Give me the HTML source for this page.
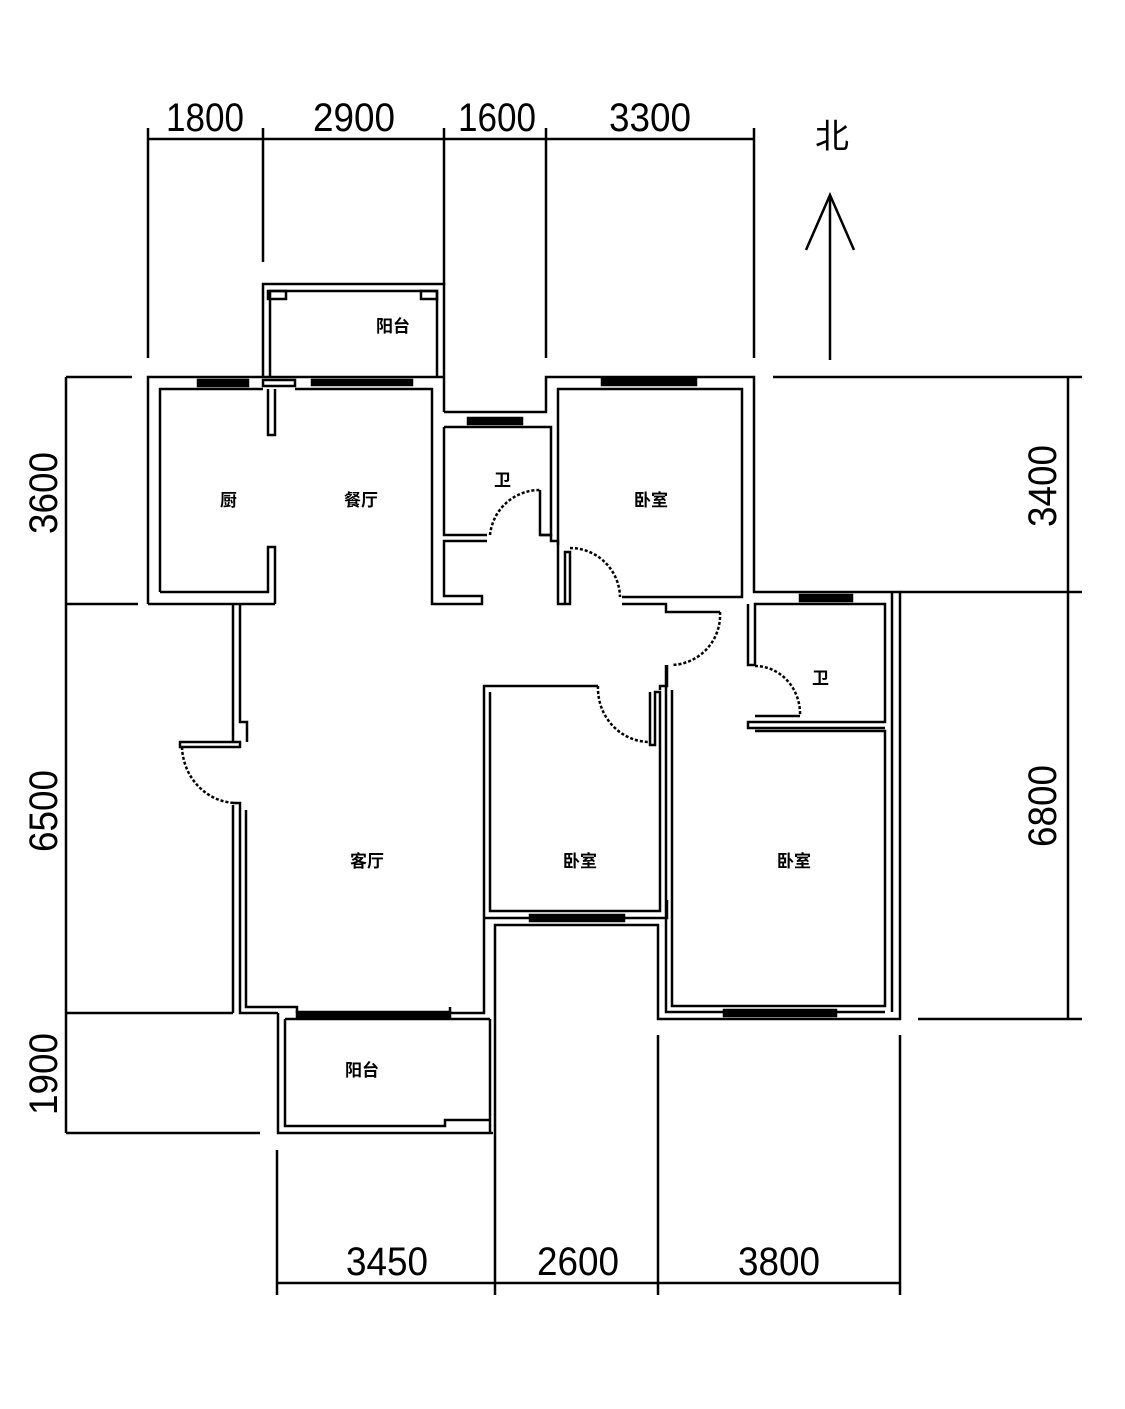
<!DOCTYPE html>
<html><head><meta charset="utf-8"><style>
html,body{margin:0;padding:0;background:#fff}
svg{display:block}
.n{font-family:"Liberation Sans Narrow","Liberation Sans",sans-serif;font-size:40px;fill:#000}
.c{font-family:"Liberation Sans","Noto Sans CJK SC",sans-serif;font-size:17px;font-weight:bold;fill:#000}
</style></head><body>
<svg width="1125" height="1409" viewBox="0 0 1125 1409" xmlns="http://www.w3.org/2000/svg">
<g fill="none" stroke="#000" stroke-width="2.5">
<!-- dimension top -->
<line x1="148" y1="139" x2="754" y2="139"/>
<line x1="148" y1="128" x2="148" y2="358"/>
<line x1="263" y1="128" x2="263" y2="262"/>
<line x1="444" y1="128" x2="444" y2="285"/>
<line x1="546" y1="128" x2="546" y2="358"/>
<line x1="754" y1="128" x2="754" y2="358"/>
<!-- north arrow -->
<line x1="830" y1="195" x2="830" y2="360"/>
<polyline points="806,250 830,195 854,250"/>
<!-- right dims -->
<line x1="1068" y1="377" x2="1068" y2="1019"/>
<line x1="773" y1="377" x2="1082" y2="377"/>
<line x1="900" y1="592" x2="1082" y2="592"/>
<line x1="918" y1="1019" x2="1082" y2="1019"/>
<!-- left dims -->
<line x1="66" y1="377" x2="66" y2="1133"/>
<line x1="66" y1="377" x2="132" y2="377"/>
<line x1="66" y1="604" x2="138" y2="604"/>
<line x1="66" y1="1013" x2="233" y2="1013"/>
<line x1="66" y1="1133" x2="260" y2="1133"/>
<!-- bottom dims -->
<line x1="277" y1="1283" x2="900" y2="1283"/>
<line x1="277" y1="1150" x2="277" y2="1295"/>
<line x1="495" y1="1133" x2="495" y2="1295"/>
<line x1="658" y1="1035" x2="658" y2="1295"/>
<line x1="900" y1="1035" x2="900" y2="1295"/>

<!-- top balcony -->
<polyline points="263,377 263,284 444,284 444,412"/>
<polyline points="270,377 270,291 437,291 437,377"/>
<rect x="268" y="291" width="18" height="8"/>
<rect x="421" y="291" width="16" height="8"/>
<!-- top-left block -->
<polyline points="148,604 148,377 444,377"/>
<polyline points="444,412 546,412 546,377 754,377 754,592 900,592 900,1019 658,1019 658,925 495,925 495,1133"/>
<polyline points="160,592 160,389 263,389"/>
<polyline points="295,389 432,389 432,604 482,604 482,596 444,596 444,541 487,541"/>
<line x1="148" y1="604" x2="275" y2="604"/>
<polyline points="160,592 268,592 268,547 275,547 275,604"/>
<polyline points="268,389 268,435 275,435 275,389"/>
<!-- bathroom 1 -->
<polyline points="444,427 444,535 487,535"/>
<polyline points="444,427 551,427 551,535 540,535"/>
<polyline points="540,490 540,535 551,535 551,541 558,541 558,604 570,604 570,552 565,552 565,604"/>
<path d="M490,535 A50,50 0 0 1 540,490" stroke-dasharray="3,2"/>
<rect x="468" y="418" width="54" height="6" fill="#000"/>
<!-- top-right bedroom -->
<polyline points="558,545 558,389 742,389 742,597 622,597"/>
<path d="M570,548 A50,50 0 0 1 620,597" stroke-dasharray="3,2"/>
<rect x="602" y="379" width="94" height="6" fill="#000"/>
<rect x="800" y="595" width="52" height="6" fill="#000"/>
<polyline points="622,604 666,604 666,612 720,612"/>
<path d="M720,612 A50,50 0 0 1 672,665" stroke-dasharray="3,2"/>
<polyline points="748,604 748,665 755,665"/>
<!-- bath 2 -->
<polyline points="755,665 755,604 885,604 885,722 755,722 748,722 748,728 885,728"/>
<line x1="755" y1="716" x2="800" y2="716"/>
<path d="M755,666 A45,48 0 0 1 800,716" stroke-dasharray="3,2"/>
<line x1="892" y1="592" x2="892" y2="1012"/>
<!-- big bedroom -->
<polyline points="666,665 666,1012 885,1012"/>
<polyline points="672,690 672,1006 885,1006 885,731 755,731"/>
<rect x="724" y="1010" width="112" height="6" fill="#000"/>
<!-- middle bedroom -->
<polyline points="598,686 484,686 484,1007"/>
<polyline points="490,692 490,911 660,911 660,692 655,692 655,745 650,745 650,692"/>
<path d="M598,686 A52,54 0 0 0 648,742" stroke-dasharray="3,2"/>
<polyline points="660,690 660,686 667,686 667,665"/>
<polyline points="484,918 667,918 667,900"/>
<rect x="530" y="915" width="94" height="6" fill="#000"/>
<!-- living left wall -->
<polyline points="233,604 233,742"/>
<polyline points="240,604 240,722 247,722 247,742"/>
<rect x="180" y="742" width="60" height="5"/>
<path d="M182,747 A55,58 0 0 0 236,803" stroke-dasharray="3,2"/>
<polyline points="233,803 240,803 240,1013 278,1013"/>
<polyline points="233,805 233,1013"/>
<polyline points="246,810 246,1007 297,1007 297,1013"/>
<polyline points="450,1007 450,1013 484,1013 484,1007"/>
<rect x="297" y="1012" width="153" height="6" fill="#000"/>
<!-- bottom balcony -->
<polyline points="278,1013 278,1133 493,1133"/>
<polyline points="285,1019 285,1126 445,1126 445,1120 490,1120"/>
<line x1="285" y1="1019" x2="490" y2="1019"/>
<line x1="490" y1="1019" x2="490" y2="1133"/>
<rect x="263" y="380" width="32" height="6" fill="none"/>
<rect x="198" y="380" width="50" height="6" fill="#000"/>
<rect x="312" y="380" width="100" height="5" fill="#000"/>
</g>
<!-- numbers -->
<g class="n">
<text x="166" y="131" textLength="78" lengthAdjust="spacingAndGlyphs">1800</text>
<text x="313" y="131" textLength="82" lengthAdjust="spacingAndGlyphs">2900</text>
<text x="458" y="131" textLength="78" lengthAdjust="spacingAndGlyphs">1600</text>
<text x="609" y="131" textLength="82" lengthAdjust="spacingAndGlyphs">3300</text>
<text x="346" y="1275" textLength="82" lengthAdjust="spacingAndGlyphs">3450</text>
<text x="537" y="1275" textLength="82" lengthAdjust="spacingAndGlyphs">2600</text>
<text x="738" y="1275" textLength="82" lengthAdjust="spacingAndGlyphs">3800</text>
<text transform="translate(57,534) rotate(-90)" textLength="82" lengthAdjust="spacingAndGlyphs">3600</text>
<text transform="translate(57,852) rotate(-90)" textLength="82" lengthAdjust="spacingAndGlyphs">6500</text>
<text transform="translate(57,1115) rotate(-90)" textLength="82" lengthAdjust="spacingAndGlyphs">1900</text>
<text transform="translate(1056,527) rotate(-90)" textLength="82" lengthAdjust="spacingAndGlyphs">3400</text>
<text transform="translate(1056,847) rotate(-90)" textLength="82" lengthAdjust="spacingAndGlyphs">6800</text>
<text x="815" y="148" style="font-size:34px">北</text>
</g>
<g class="c">
<text x="376" y="332">阳台</text>
<text x="220" y="506">厨</text>
<text x="344" y="506">餐厅</text>
<text x="494" y="486">卫</text>
<text x="634" y="506">卧室</text>
<text x="812" y="684">卫</text>
<text x="350" y="867">客厅</text>
<text x="563" y="867">卧室</text>
<text x="777" y="867">卧室</text>
<text x="345" y="1076">阳台</text>
</g>
</svg>
</body></html>
